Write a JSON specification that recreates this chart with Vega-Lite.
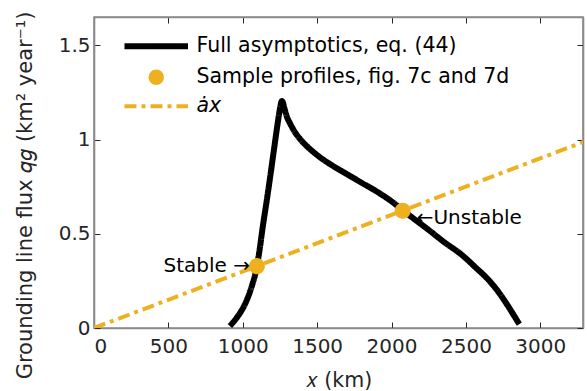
{
  "$schema": "https://vega.github.io/schema/vega-lite/v6.json",
  "width": 489,
  "height": 311,
  "autosize": {"type": "none"},
  "padding": {"left": 94, "top": 17, "right": 4, "bottom": 63},
  "background": "white",
  "config": {
    "font": "DejaVu Sans",
    "view": {"stroke": "#8a8a8a", "strokeWidth": 1.6},
    "axis": {
      "grid": false,
      "domainColor": "#8a8a8a",
      "domainWidth": 1.6,
      "tickColor": "#262626",
      "tickSize": -6,
      "labelFontSize": 20,
      "labelColor": "#262626",
      "labelFont": "DejaVu Sans",
      "titleFontSize": 20.5,
      "titleFontWeight": "normal",
      "titleColor": "#262626",
      "titleFont": "DejaVu Sans"
    },
    "legend": {
      "padding": 0,
      "symbolSize": 240,
      "symbolStrokeWidth": 5,
      "labelFontSize": 20.5,
      "labelColor": "#000000",
      "labelFont": "DejaVu Sans",
      "labelOffset": 30,
      "rowPadding": 8,
      "labelLimit": 400
    }
  },
  "datasets": {
    "curve": [
      {"x": 913, "q": 0.01}, {"x": 935, "q": 0.03}, {"x": 960, "q": 0.055}, {"x": 990, "q": 0.09}, {"x": 1027, "q": 0.148},
      {"x": 1060, "q": 0.22}, {"x": 1094, "q": 0.323}, {"x": 1115, "q": 0.425}, {"x": 1134, "q": 0.535},
      {"x": 1160, "q": 0.67}, {"x": 1181, "q": 0.784}, {"x": 1205, "q": 0.92}, {"x": 1228, "q": 1.05},
      {"x": 1245, "q": 1.14}, {"x": 1255, "q": 1.185}, {"x": 1262, "q": 1.205}, {"x": 1268, "q": 1.2},
      {"x": 1280, "q": 1.165}, {"x": 1297, "q": 1.12}, {"x": 1315, "q": 1.09}, {"x": 1350, "q": 1.04},
      {"x": 1383, "q": 1.005}, {"x": 1430, "q": 0.965}, {"x": 1470, "q": 0.937}, {"x": 1517, "q": 0.907},
      {"x": 1600, "q": 0.863}, {"x": 1698, "q": 0.817}, {"x": 1800, "q": 0.77}, {"x": 1919, "q": 0.715},
      {"x": 2000, "q": 0.672}, {"x": 2074, "q": 0.626}, {"x": 2141, "q": 0.585}, {"x": 2250, "q": 0.52},
      {"x": 2350, "q": 0.458}, {"x": 2477, "q": 0.385}, {"x": 2560, "q": 0.325}, {"x": 2658, "q": 0.25},
      {"x": 2720, "q": 0.19}, {"x": 2772, "q": 0.13}, {"x": 2820, "q": 0.07}, {"x": 2859, "q": 0.02}
    ],
    "axline": [
      {"x": 0, "q": 0}, {"x": 3300, "q": 0.99}
    ],
    "samples": [
      {"x": 1095, "q": 0.328, "label": "Stable →", "side": "left"},
      {"x": 2075, "q": 0.622, "label": "←Unstable", "side": "right"}
    ]
  },
  "layer": [
    {
      "encoding": {
        "x": {
          "field": "x", "type": "quantitative",
          "scale": {"domain": [0, 3287], "nice": false, "zero": false},
          "axis": {"title": "𝑥 (km)", "format": "d", "values": [0, 500, 1000, 1500, 2000, 2500, 3000], "labelPadding": 14, "titleY": 52, "titleBaseline": "middle"}
        },
        "y": {
          "field": "q", "type": "quantitative",
          "scale": {"domain": [0, 1.65], "nice": false, "zero": false},
          "axis": {"title": "Grounding line flux 𝑞𝑔 (km² year⁻¹)", "titleFontSize": 21, "format": "~g", "values": [0, 0.5, 1, 1.5], "labelPadding": 10, "titleX": -69, "titleY": 178, "titleAngle": 270, "titleAlign": "center", "titleBaseline": "middle"}
        }
      },
      "layer": [
        {
          "data": {"name": "axline"},
          "transform": [{"calculate": "'ȧx'", "as": "series"}],
          "mark": {"type": "line", "strokeWidth": 4, "clip": true},
          "encoding": {
            "color": {
              "field": "series", "type": "nominal",
              "scale": {"domain": ["Full asymptotics, eq. (44)", "Sample profiles, fig. 7c and 7d", "ȧx"], "range": ["#000000", "#EDB120", "#EDB120"]},
              "legend": {
                "title": null,
                "orient": "none",
                "legendX": 52,
                "legendY": 19,
                "encode": {
                  "symbols": {"update": {
                    "fill": {"scale": "color", "field": "value"},
                    "strokeWidth": {"signal": "datum.value === 'Sample profiles, fig. 7c and 7d' ? 0 : (datum.value === 'ȧx' ? 4 : 6)"}
                  }},
                  "labels": {"update": {
                    "fontStyle": {"signal": "datum.value === 'ȧx' ? 'italic' : 'normal'"}
                  }}
                }
              }
            },
            "strokeDash": {
              "field": "series", "type": "nominal",
              "scale": {"domain": ["Full asymptotics, eq. (44)", "Sample profiles, fig. 7c and 7d", "ȧx"], "range": [[1, 0], [1, 0], [12, 5, 4, 5]]}
            }
          }
        },
        {
          "data": {"name": "curve"},
          "transform": [{"calculate": "'Full asymptotics, eq. (44)'", "as": "series"}],
          "mark": {"type": "line", "strokeWidth": 6, "interpolate": "monotone"},
          "encoding": {
            "color": {"field": "series", "type": "nominal"},
            "strokeDash": {"field": "series", "type": "nominal"}
          }
        },
        {
          "data": {"name": "samples"},
          "transform": [{"calculate": "'Sample profiles, fig. 7c and 7d'", "as": "series"}],
          "mark": {"type": "point", "filled": true, "size": 260, "opacity": 1},
          "encoding": {
            "color": {"field": "series", "type": "nominal"},
            "shape": {
              "field": "series", "type": "nominal",
              "scale": {"domain": ["Full asymptotics, eq. (44)", "Sample profiles, fig. 7c and 7d", "ȧx"], "range": ["M-4.1,0L4.1,0", "circle", "M-4.1,0L4.1,0"]}
            }
          }
        },
        {
          "data": {"name": "samples"},
          "transform": [{"filter": "datum.side === 'left'"}],
          "mark": {"type": "text", "align": "right", "baseline": "middle", "dx": -7, "dy": 0, "fontSize": 20, "color": "#000000"},
          "encoding": {"text": {"field": "label"}}
        },
        {
          "data": {"name": "samples"},
          "transform": [{"filter": "datum.side === 'right'"}],
          "mark": {"type": "text", "align": "left", "baseline": "middle", "dx": 14, "dy": 7, "fontSize": 20, "color": "#000000"},
          "encoding": {"text": {"field": "label"}}
        }
      ]
    },
    {
      "data": {"name": "axline"},
      "mark": {"type": "point", "opacity": 0, "clip": true},
      "encoding": {
        "x": {"field": "x", "type": "quantitative", "axis": {"orient": "top", "labels": false, "title": null, "values": [0, 500, 1000, 1500, 2000, 2500, 3000]}},
        "y": {"field": "q", "type": "quantitative", "axis": {"orient": "right", "labels": false, "title": null, "values": [0, 0.5, 1, 1.5]}}
      }
    }
  ],
  "resolve": {"axis": {"x": "independent", "y": "independent"}}
}
